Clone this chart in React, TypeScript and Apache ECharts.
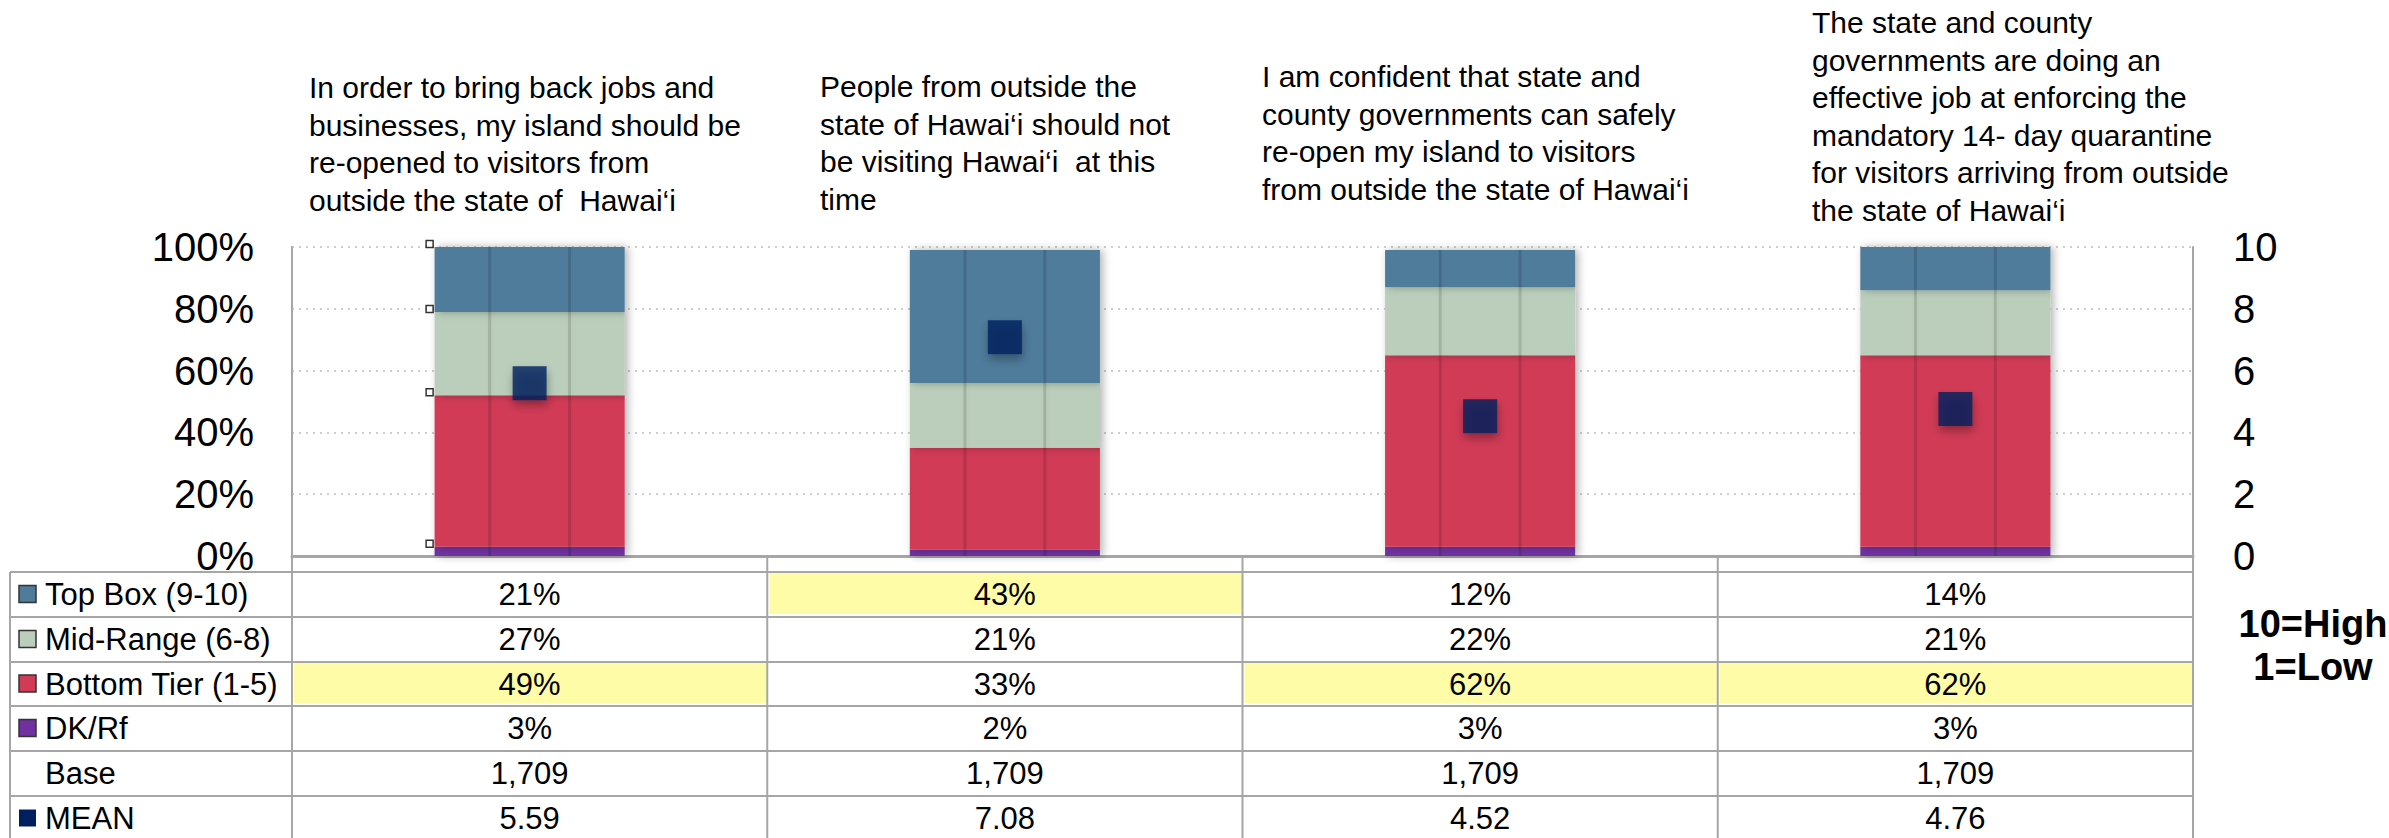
import React, { useEffect, useRef } from "react";
import * as echarts from "echarts";

const categories = ["Q1", "Q2", "Q3", "Q4"];
const questions = [
  "In order to bring back jobs and\nbusinesses, my island should be\nre-opened to visitors from\noutside the state of  Hawai‘i",
  "People from outside the\nstate of Hawai‘i should not\nbe visiting Hawai‘i  at this\ntime",
  "I am confident that state and\ncounty governments can safely\nre-open my island to visitors\nfrom outside the state of Hawai‘i",
  "The state and county\ngovernments are doing an\neffective job at enforcing the\nmandatory 14- day quarantine\nfor visitors arriving from outside\nthe state of Hawai‘i",
];
const topBox = [21, 43, 12, 14];
const midRange = [27, 21, 22, 21];
const bottomTier = [49, 33, 62, 62];
const dkRf = [3, 2, 3, 3];
const baseN = [1709, 1709, 1709, 1709];
const meanScore = [5.59, 7.08, 4.52, 4.76];
const rowLabels = ["Top Box (9-10)", "Mid-Range (6-8)", "Bottom Tier (1-5)", "DK/Rf", "Base", "MEAN"];
// [row, column] of highlighted table cells
const highlighted = [
  [0, 1],
  [2, 0],
  [2, 2],
  [2, 3],
];

const COLORS = {
  top: "#4F7C9B",
  mid: "#BBCEBB",
  bottom: "#D13B56",
  dk: "#7030A0",
  mean: "#001F5F",
};

const FONT = "'Liberation Sans', Arial, sans-serif";

// layout
const W = 2389;
const H = 838;
const GL = 292;
const GR = 2193;
const GT = 247;
const GB = 556;
const colW = (GR - GL) / categories.length;
const rowYs = [572, 617, 662, 706, 751, 796, 841];
const titlePos = [
  { x: 309, y: 69 },
  { x: 820, y: 68 },
  { x: 1262, y: 58 },
  { x: 1812, y: 4 },
];

function fmtInt(n: number) {
  return n.toLocaleString("en-US");
}

export default function App() {
  const ref = useRef<HTMLDivElement>(null);
  useEffect(() => {
    if (!ref.current) return;
    const chart = echarts.init(ref.current, undefined, { renderer: "svg" });

    const totals = categories.map((_, i) => topBox[i] + midRange[i] + bottomTier[i] + dkRf[i]);
    // cumulative stack tops of the first column (small label anchors in the original)
    const firstCum = [
      dkRf[0],
      dkRf[0] + bottomTier[0],
      dkRf[0] + bottomTier[0] + midRange[0],
      totals[0],
    ];
    const tableValues: string[][] = [
      topBox.map((v) => v + "%"),
      midRange.map((v) => v + "%"),
      bottomTier.map((v) => v + "%"),
      dkRf.map((v) => v + "%"),
      baseN.map(fmtInt),
      meanScore.map((v) => v.toFixed(2)),
    ];
    const swatch = [COLORS.top, COLORS.mid, COLORS.bottom, COLORS.dk, null, COLORS.mean];

    const graphics: any[] = [];
    // highlights
    highlighted.forEach(([r, c]) => {
      graphics.push({
        type: "rect",
        z: 1,
        shape: { x: GL + c * colW + 2, y: rowYs[r] - 1, width: colW - 2, height: rowYs[r + 1] - rowYs[r] - 2 },
        style: { fill: "#FFFCA8" },
      });
    });
    // horizontal lines
    for (let r = 0; r < rowYs.length - 1; r++) {
      graphics.push({
        type: "line",
        z: 2,
        shape: { x1: 10, y1: rowYs[r], x2: GR, y2: rowYs[r] },
        style: { stroke: "#A6A6A6", lineWidth: 2 },
      });
    }
    // vertical lines
    graphics.push({
      type: "line",
      z: 2,
      shape: { x1: 10, y1: rowYs[0], x2: 10, y2: H },
      style: { stroke: "#A6A6A6", lineWidth: 2 },
    });
    for (let c = 0; c <= categories.length; c++) {
      const x = GL + c * colW;
      graphics.push({
        type: "line",
        z: 2,
        shape: { x1: x, y1: GB, x2: x, y2: H },
        style: { stroke: "#A6A6A6", lineWidth: 2 },
      });
    }
    // row labels, swatches, values
    rowLabels.forEach((lab, r) => {
      const cy = (rowYs[r] + rowYs[r + 1]) / 2;
      if (swatch[r]) {
        graphics.push({
          type: "rect",
          z: 3,
          shape: { x: 19, y: cy - 9, width: 17, height: 17 },
          style: { fill: swatch[r], stroke: r === 5 ? swatch[r] : "#333", lineWidth: r === 5 ? 0 : 1.5 },
        });
      }
      graphics.push({
        type: "text",
        z: 3,
        style: {
          text: lab,
          x: 45,
          y: cy,
          fill: "#000",
          font: `31px ${FONT}`,
          align: "left",
          verticalAlign: "middle",
          textAlign: "left",
          textVerticalAlign: "middle",
        },
      });
      tableValues[r].forEach((val, c) => {
        graphics.push({
          type: "text",
          z: 3,
          style: {
            text: val,
            x: GL + (c + 0.5) * colW,
            y: cy,
            fill: "#000",
            font: `31px ${FONT}`,
            align: "center",
            verticalAlign: "middle",
            textAlign: "center",
            textVerticalAlign: "middle",
          },
        });
      });
    });
    // titles
    questions.forEach((q, i) => {
      graphics.push({
        type: "text",
        z: 3,
        style: {
          text: q,
          x: titlePos[i].x,
          y: titlePos[i].y,
          fill: "#000",
          font: `30px ${FONT}`,
          lineHeight: 37.5,
          align: "left",
          verticalAlign: "top",
          textAlign: "left",
          textVerticalAlign: "top",
        },
      });
    });
    // scale note
    graphics.push({
      type: "text",
      z: 3,
      style: {
        text: "10=High\n1=Low",
        x: 2313,
        y: 645,
        fill: "#000",
        font: `bold 38px ${FONT}`,
        lineHeight: 43,
        align: "center",
        verticalAlign: "middle",
        textAlign: "center",
        textVerticalAlign: "middle",
      },
    });

    const barShadow = {
      shadowBlur: 8,
      shadowColor: "rgba(0,0,0,0.3)",
      shadowOffsetX: 3,
    };

    chart.setOption({
      animation: false,
      grid: { left: GL, right: W - GR, top: GT, bottom: H - GB, containLabel: false },
      xAxis: {
        type: "category",
        data: categories,
        axisLabel: { show: false },
        axisTick: { show: false },
        axisLine: { show: true, lineStyle: { color: "#A6A6A6", width: 3 } },
      },
      yAxis: [
        {
          type: "value",
          min: 0,
          max: 100,
          interval: 20,
          axisLabel: {
            formatter: "{value}%",
            fontSize: 40,
            fontFamily: FONT,
            color: "#000",
            margin: 38,
          },
          axisLine: { show: true, lineStyle: { color: "#A6A6A6", width: 2 } },
          axisTick: { show: false },
          splitLine: { show: true, lineStyle: { color: "#BFBFBF", type: [2, 5], width: 1.5 } },
        },
        {
          type: "value",
          min: 0,
          max: 10,
          interval: 2,
          position: "right",
          axisLabel: {
            fontSize: 40,
            fontFamily: FONT,
            color: "#000",
            margin: 40,
          },
          axisLine: { show: true, lineStyle: { color: "#A6A6A6", width: 2 } },
          axisTick: { show: false },
          splitLine: { show: false },
        },
      ],
      series: [
        {
          name: "DK/Rf",
          type: "bar",
          stack: "s",
          barWidth: "40%",
          data: dkRf,
          itemStyle: { color: COLORS.dk, ...barShadow },
        },
        {
          name: "Bottom Tier (1-5)",
          type: "bar",
          stack: "s",
          barWidth: "40%",
          data: bottomTier,
          itemStyle: { color: COLORS.bottom, ...barShadow },
        },
        {
          name: "Mid-Range (6-8)",
          type: "bar",
          stack: "s",
          barWidth: "40%",
          data: midRange,
          itemStyle: { color: COLORS.mid, ...barShadow },
        },
        {
          name: "Top Box (9-10)",
          type: "bar",
          stack: "s",
          barWidth: "40%",
          data: topBox,
          itemStyle: { color: COLORS.top, ...barShadow },
        },
        {
          name: "stripes",
          type: "custom",
          z: 3,
          data: totals.map((t, i) => [i, t]),
          renderItem: (params: any, api: any) => {
            const idx = api.value(0);
            const top = api.coord([idx, api.value(1)]);
            const bot = api.coord([idx, 0]);
            const band = api.size([1, 0])[0];
            const bw = band * 0.4;
            const left = top[0] - bw / 2;
            const mk = (f: number) => ({
              type: "rect",
              shape: { x: left + bw * f - 1.5, y: top[1], width: 3, height: bot[1] - top[1] },
              style: { fill: "rgba(0,0,0,0.13)", shadowBlur: 4, shadowColor: "rgba(0,0,0,0.15)", shadowOffsetX: 1 },
            });
            return { type: "group", children: [mk(0.29), mk(0.71)] };
          },
        },
        {
          name: "anchors",
          type: "scatter",
          z: 4,
          symbol: "rect",
          symbolSize: 7,
          symbolOffset: [-100, -3],
          data: firstCum.map((v) => [0, v]),
          itemStyle: { color: "#fff", borderColor: "#000", borderWidth: 1.5 },
        },
        {
          name: "MEAN",
          type: "scatter",
          yAxisIndex: 1,
          z: 5,
          symbol: "rect",
          symbolSize: 34,
          data: meanScore,
          itemStyle: {
            color: COLORS.mean,
            shadowBlur: 10,
            shadowColor: "rgba(0,0,0,0.4)",
            shadowOffsetX: 1,
            shadowOffsetY: 5,
          },
        },
      ],
      graphic: graphics,
    });
    return () => chart.dispose();
  }, []);
  return (
    <div
      ref={ref}
      style={{ position: "fixed", left: 0, top: 0, width: W, height: H, background: "#fff" }}
    />
  );
}
